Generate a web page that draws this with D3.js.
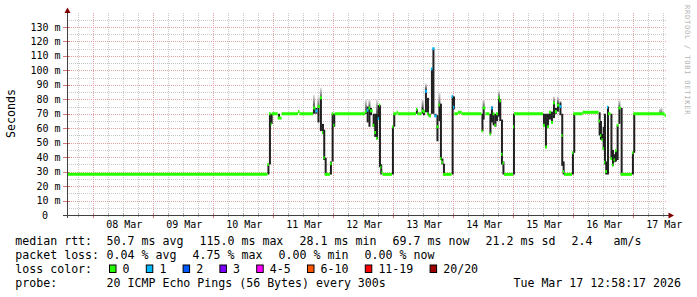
<html lang="en">
<head>
<meta charset="utf-8">
<title>Smokeping RTT</title>
<script src="https://d3js.org/d3.v7.min.js"></script>
<style>
body { margin: 0; background: #ffffff; }
text { font-family: "DejaVu Sans Mono", monospace; white-space: pre; }
</style>
</head>

<body></body>

<script type="text/javascript">

/*********************************************************************/
// Data  (days are decimal days of March 2026, UTC; values in ms)

var yTicks = [0, 10, 20, 30, 40, 50, 60, 70, 80, 90, 100, 110, 120, 130];
var dayLabels = [8, 9, 10, 11, 12, 13, 14, 15, 16, 17];

// median rtt steps: [day, ms, lost pings]
var median = [
	[7.562, 28.1, 0], [10.903, 35, 0], [10.928, 70, 0], [10.957, 63, 0], [10.973, 70, 0],
	[11.073, 67, 0], [11.140, 70, 0], [11.412, 71.5, 0], [11.437, 70, 0],
	[11.662, 74, 0], [11.700, 72, 1], [11.737, 75, 0], [11.778, 81, 0], [11.812, 57, 0],
	[11.833, 39.5, 0], [11.857, 28.1, 0], [11.945, 35.5, 0], [11.973, 70, 0], [12.000, 62, 0],
	[12.020, 70, 0], [12.528, 71.5, 0], [12.557, 72.5, 1], [12.587, 74, 0], [12.612, 72, 0],
	[12.657, 62, 0], [12.683, 57, 0], [12.712, 53, 0], [12.740, 66.5, 1], [12.762, 76, 0],
	[12.783, 33, 0], [12.803, 29.5, 0], [12.820, 28.1, 0], [12.978, 61, 0], [13.000, 70, 0],
	[13.057, 71, 0], [13.078, 70, 0], [13.378, 73, 0], [13.403, 70, 0], [13.473, 72, 0],
	[13.495, 71.5, 0], [13.528, 85.5, 1], [13.562, 70, 0], [13.590, 68.5, 0], [13.628, 101, 1],
	[13.653, 115, 1], [13.687, 68.5, 1], [13.720, 61, 0], [13.753, 76, 0], [13.778, 39, 0],
	[13.803, 36.5, 0], [13.828, 28.1, 0], [13.973, 82, 1], [13.995, 74.5, 1], [14.017, 70, 0],
	[14.078, 71, 0], [14.140, 70, 0], [14.470, 58, 0], [14.490, 74, 0], [14.537, 70, 0],
	[14.603, 56, 0], [14.628, 74, 1], [14.657, 70, 0], [14.687, 62, 0], [14.712, 70, 0],
	[14.745, 81, 0], [14.767, 79, 0], [14.795, 42, 0], [14.820, 36, 0], [14.845, 28.1, 0],
	[14.995, 61, 0], [15.012, 70, 0], [15.495, 62, 0], [15.528, 47, 0], [15.562, 61, 0],
	[15.595, 71, 0], [15.628, 64, 0], [15.662, 77.5, 0], [15.695, 71.5, 0], [15.728, 76, 0],
	[15.770, 75, 1], [15.800, 55, 0], [15.823, 30, 0], [15.845, 28.1, 0], [15.978, 43, 0],
	[16.000, 70, 0], [16.157, 71, 0], [16.423, 65, 0], [16.445, 55, 0], [16.467, 52, 0],
	[16.490, 46, 0], [16.512, 36.5, 0], [16.533, 30, 0], [16.562, 74.5, 1], [16.580, 70, 0],
	[16.620, 39, 0], [16.645, 34.5, 0], [16.673, 38, 0], [16.695, 44.5, 0], [16.723, 62, 0],
	[16.753, 74, 0], [16.790, 28.1, 0], [16.978, 43, 0], [17.000, 70, 0], [17.520, 69, 0]
];
var endDay = 17.545;

// smoke columns: [day, low ms, high ms, light smoke top ms]
var smoke = [
	[10.903, 28, 35, 0], [10.928, 35, 70, 0], [10.957, 63, 70, 0], [11.080, 67, 70, 0],
	[11.662, 70, 75, 83], [11.700, 70, 74, 0], [11.737, 64, 75, 82], [11.778, 58, 81, 88],
	[11.812, 56, 63, 0], [11.833, 38, 59, 0], [11.857, 28, 39.5, 0], [11.945, 28, 37, 0],
	[11.973, 37, 70, 0], [12.000, 61, 70, 0],
	[12.528, 70, 72.5, 80], [12.557, 64, 75, 0], [12.587, 61, 75, 80], [12.612, 69, 74, 0],
	[12.657, 61, 70, 0], [12.683, 54, 70, 0], [12.712, 52.5, 70, 80], [12.740, 66, 76, 0],
	[12.762, 33, 76, 0], [12.783, 28, 35, 0], [12.978, 28, 61, 0], [13.000, 61, 70, 0],
	[13.378, 70, 73, 0], [13.473, 70, 74.5, 80], [13.495, 69, 72, 0], [13.528, 71, 87, 91],
	[13.562, 69, 81, 0], [13.590, 68, 70, 0], [13.628, 70, 101, 0], [13.653, 70, 115, 0],
	[13.687, 68, 70, 0], [13.720, 51, 69, 0], [13.753, 65, 76.5, 85], [13.778, 38, 77, 0],
	[13.803, 35, 39, 0], [13.828, 28, 35.5, 0], [13.973, 28, 82, 0], [13.995, 73, 82, 0],
	[14.470, 58, 70, 0], [14.490, 66, 75, 80], [14.603, 56, 70, 0], [14.628, 64, 75, 0],
	[14.657, 62, 70, 0], [14.687, 61, 70, 0], [14.712, 65, 70, 0], [14.745, 68, 81, 86],
	[14.767, 65, 80, 0], [14.795, 35, 66, 0], [14.820, 28, 37, 0], [14.995, 28, 70, 0],
	[15.495, 62, 70, 0], [15.528, 47, 70, 0], [15.562, 61, 70, 0], [15.595, 66, 71.5, 0],
	[15.628, 64, 71.5, 0], [15.662, 67, 77.5, 82], [15.695, 70, 74, 0], [15.728, 71.5, 77.5, 82],
	[15.770, 69, 77.5, 79], [15.800, 34, 70, 0], [15.823, 28, 37, 0], [15.978, 28, 43, 0],
	[16.000, 43, 70, 0], [16.423, 55, 71, 0], [16.445, 52, 65, 0], [16.467, 52, 56, 0],
	[16.490, 45, 61, 0], [16.512, 35, 70, 0], [16.533, 28, 37, 0], [16.562, 28, 75, 0],
	[16.620, 39, 70, 0], [16.645, 34, 45, 0], [16.673, 36.5, 42, 0], [16.695, 37, 44.5, 0],
	[16.723, 38, 62, 0], [16.753, 63, 74.5, 79.5], [16.790, 28, 74, 0], [16.978, 28, 43, 0],
	[17.000, 43, 70, 0], [17.430, 70, 70, 73.5], [17.455, 70, 70, 74]
];

var lossLabels = ["0", "1", "2", "3", "4-5", "6-10", "11-19", "20/20"];
var lossColors = ["#26ff00", "#00b8ff", "#0059ff", "#7e00ff", "#ff00ff", "#ff5500", "#ff0000", "#a10000"];

var rttStats = ["50.7 ms avg", "115.0 ms max", "28.1 ms min", "69.7 ms now", "21.2 ms sd", "2.4   am/s"];
var lossStats = ["0.04 % avg", "4.75 % max", "0.00 % min", "0.00 % now"];
var probeText = "20 ICMP Echo Pings (56 Bytes) every 300s";
var stamp = "Tue Mar 17 12:58:17 2026";

/*********************************************************************/
// Canvas

width = 697;
height = 297;

var svg = d3.select("body")
	.append("svg")
	.attr("id", "canvas")
	.attr("width", width)
	.attr("height", height);

svg.append("rect").attr("width", width).attr("height", height).attr("fill", "#ffffff");

function day2date(d){ return new Date(Date.UTC(2026, 2, 1) + (d - 1)*864e5); }

var x = d3.scaleUtc()
	.domain([new Date(Date.UTC(2026, 2, 7, 13, 30)), new Date(Date.UTC(2026, 2, 17, 13, 30))])
	.range([67, 667]);

var y = d3.scaleLinear()
	.domain([0, 140])
	.range([215, 12.5]);

function px(v){ return Math.round(v) + 0.5; }

/*********************************************************************/
// Grid

var grid = svg.append("g").attr("id", "grid");

for(var v = 5; v < 140; v += 5){
	grid.append("line")
		.attr("x1", 67).attr("x2", 667)
		.attr("y1", px(y(v))).attr("y2", px(y(v)))
		.style("stroke", v%10 == 0 ? "#e6a3a3" : "#c8c8c8")
		.style("stroke-dasharray", "1,1");
}

var hours = d3.utcHour.every(6).range(x.domain()[0], x.domain()[1]);
hours.forEach(function(h){
	grid.append("line")
		.attr("x1", px(x(h))).attr("x2", px(x(h)))
		.attr("y1", 13).attr("y2", 215)
		.style("stroke", h.getUTCHours() == 0 ? "#e6a3a3" : "#c8c8c8")
		.style("stroke-dasharray", "1,1");
	// ticks on axis
	grid.append("line")
		.attr("x1", px(x(h))).attr("x2", px(x(h)))
		.attr("y1", 213).attr("y2", h.getUTCHours() == 0 ? 218 : 217)
		.style("stroke", h.getUTCHours() == 0 ? "#d77" : "#aaa");
});

yTicks.forEach(function(v){
	if(v == 0) return;
	grid.append("line")
		.attr("x1", 63).attr("x2", 70)
		.attr("y1", px(y(v))).attr("y2", px(y(v)))
		.style("stroke", "#d77");
});

/*********************************************************************/
// Smoke

var defs = svg.append("defs");
var grad = defs.append("linearGradient")
	.attr("id", "tip")
	.attr("x1", 0).attr("y1", 1).attr("x2", 0).attr("y2", 0);
grad.append("stop").attr("offset", "0").attr("stop-color", "#5a5a5a");
grad.append("stop").attr("offset", "1").attr("stop-color", "#e4e4e4");

var colW = 2;

svg.append("g").selectAll("rect")
	.data(smoke.filter(function(d){ return d[3] > 0; }))
	.enter().append("rect")
	.attr("x", function(d){ return x(day2date(d[0])); })
	.attr("width", colW)
	.attr("y", function(d){ return y(d[3]); })
	.attr("height", function(d){ return y(d[2]) - y(d[3]); })
	.attr("fill", "url(#tip)");

svg.append("g").selectAll("rect")
	.data(smoke.filter(function(d){ return d[2] > d[1]; }))
	.enter().append("rect")
	.attr("x", function(d){ return x(day2date(d[0])); })
	.attr("width", colW)
	.attr("y", function(d){ return y(d[2]); })
	.attr("height", function(d){ return y(d[1]) - y(d[2]); })
	.attr("fill", "#202020");

/*********************************************************************/
// Median line (coloured by loss)

var seg = d3.line()
	.x(function(d){ return x(day2date(d[0])); })
	.y(function(d){ return y(d[1]); });

svg.append("g").selectAll("path")
	.data(median)
	.enter().append("path")
	.attr("d", function(d, i){
		var d1 = i < median.length - 1 ? median[i+1][0] : endDay;
		return seg([[d[0], d[1]], [d1, d[1]]]);
	})
	.style("fill", "none")
	.style("stroke", function(d){ return lossColors[d[2]]; })
	.style("stroke-width", 3);

/*********************************************************************/
// Axes

svg.append("line")
	.attr("x1", 67.5).attr("x2", 67.5).attr("y1", 218).attr("y2", 10)
	.style("stroke", "#404040");
svg.append("line")
	.attr("x1", 63).attr("x2", 670).attr("y1", 215.5).attr("y2", 215.5)
	.style("stroke", "#404040");

svg.append("path")
	.attr("d", "M64.5,13L70.5,13L67.5,7.5Z")
	.attr("fill", "#7f0000");
svg.append("path")
	.attr("d", "M668.5,212.5L668.5,218.5L674,215.5Z")
	.attr("fill", "#7f0000");

svg.append("g").selectAll("text")
	.data(yTicks)
	.enter().append("text")
	.attr("x", function(d){ return d == 0 ? 48 : 60.5; })
	.attr("y", function(d){ return y(d); })
	.attr("dy", "0.36em")
	.attr("text-anchor", "end")
	.style("font-size", "10px")
	.style("fill", "#000")
	.text(function(d){ return d == 0 ? "0" : d + " m"; });

var fmt = d3.utcFormat("%d %b");
svg.append("g").selectAll("text")
	.data(dayLabels)
	.enter().append("text")
	.attr("x", function(d){ return x(day2date(d + 0.5)) + 1; })
	.attr("y", 227.5)
	.attr("text-anchor", "middle")
	.style("font-size", "10px")
	.style("fill", "#000")
	.text(function(d){ return fmt(day2date(d)); });

svg.append("text")
	.attr("transform", "translate(15,113.5) rotate(-90)")
	.attr("text-anchor", "middle")
	.style("font-size", "11.6px")
	.text("Seconds");

svg.append("text")
	.attr("transform", "translate(685,5) rotate(90)")
	.style("font-size", "7px")
	.style("letter-spacing", "0.8px")
	.style("fill", "#b4b4b4")
	.text("RRDTOOL / TOBI OETIKER");

/*********************************************************************/
// Legend

var charW = 7, fs = "11.6px";
var leg = svg.append("g").style("font-size", fs).style("fill", "#000");

function row(label, items, yy){
	leg.append("text").attr("x", 15.3).attr("y", yy).text(label);
	var xx = 106.6;
	items.forEach(function(t){
		leg.append("text").attr("x", xx).attr("y", yy).text(t);
		xx += t.length*charW + 16;
	});
}

row("median rtt:", rttStats, 245);
row("packet loss:", lossStats, 259);

leg.append("text").attr("x", 15.3).attr("y", 273).text("loss color:");
var bx = 109;
lossLabels.forEach(function(l, i){
	leg.append("rect")
		.attr("x", bx + 0.5).attr("y", 265)
		.attr("width", 6.5).attr("height", 7.5)
		.attr("fill", lossColors[i])
		.attr("stroke", "#000");
	leg.append("text").attr("x", bx + 13.6).attr("y", 273).text(l);
	bx += 14.3 + l.length*charW + 15.5;
});

leg.append("text").attr("x", 15.3).attr("y", 287).text("probe:");
leg.append("text").attr("x", 106.6).attr("y", 287).text(probeText);
leg.append("text").attr("x", 681).attr("y", 287).attr("text-anchor", "end").text(stamp);

</script>
</html>
